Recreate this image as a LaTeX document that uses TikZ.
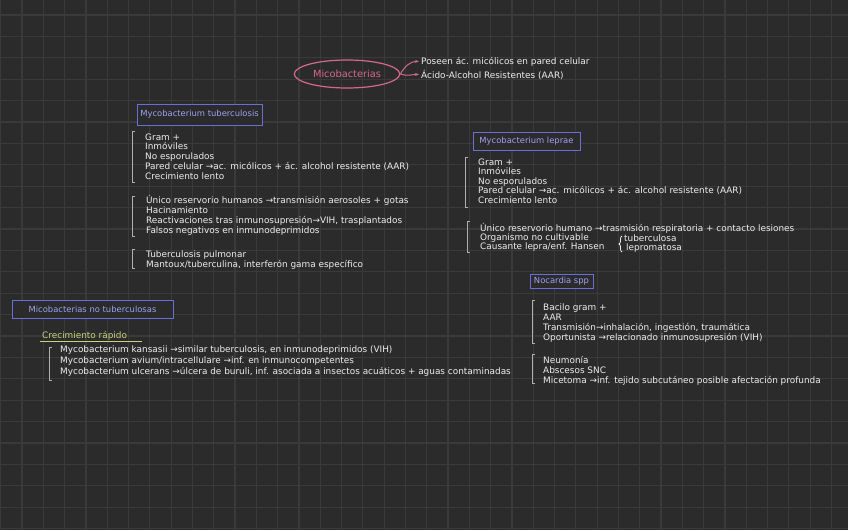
\documentclass[tikz,border=0pt]{standalone}
\usepackage{fontspec}
\setmainfont{DejaVu Sans}
\usetikzlibrary{shapes.geometric,arrows.meta,decorations.pathreplacing}
\definecolor{bg}{HTML}{2B2B2B}
\definecolor{gridc}{HTML}{3A3A3A}
\definecolor{txt}{HTML}{EEEEEE}
\definecolor{brc}{HTML}{B0B0B0}
\definecolor{boxc}{HTML}{6870D8}
\definecolor{boxtxt}{HTML}{9CA2F2}
\definecolor{pinkc}{HTML}{D4698C}
\definecolor{yel}{HTML}{C8D27A}

\begin{document}
\begin{tikzpicture}[x=1pt,y=-1pt,
    gridline/.style={draw=gridc,line width=1.2pt},
    itemtext/.style={anchor=base west,inner sep=0pt,text=txt,font=\fontsize{8.9}{9}\selectfont},
    genusbox/.style={draw=boxc,fill=bg,line width=1pt,text=boxtxt,inner sep=0pt,font=\fontsize{8.4}{9}\selectfont},
    bracketline/.style={draw=brc,line width=0.8pt}]
  \useasboundingbox (0,0) rectangle (848,530);
  \fill[bg] (0,0) rectangle (848,530);
  \foreach \i in {0,...,39} \draw[gridline] (0.7+21.3*\i,0) -- (0.7+21.3*\i,530);
  \foreach \i in {0,...,24} \draw[gridline] (0,15+21.4*\i) -- (848,15+21.4*\i);

  % title
  \node[draw=pinkc,line width=1.2pt,ellipse,minimum width=98pt,minimum height=28pt,
    text=pinkc,font=\fontsize{9.8}{10}\selectfont] (mico) at (347,74) {Micobacterias};
  \node[itemtext] (poseen) at (421,64) {Poseen ác. micólicos en pared celular};
  \node[itemtext] (acido) at (421,78) {Ácido-Alcohol Resistentes (AAR)};
  \draw[pinkc,line width=1pt,-{Stealth[length=4pt]}] (mico.east) to[out=60,in=180] ([xshift=-2pt]poseen.west);
  \draw[pinkc,line width=1pt,-{Stealth[length=4pt]}] (mico.east) to[out=-20,in=180] ([xshift=-2pt]acido.west);

  % boxes
  \node[genusbox,minimum width=125pt,minimum height=21pt] (mtb) at (199.5,114.5) {Mycobacterium tuberculosis};
  \node[genusbox,minimum width=107pt,minimum height=18pt] (mlep) at (526.5,141) {Mycobacterium leprae};
  \node[genusbox,minimum width=63pt,minimum height=14pt] (noc) at (561.5,281) {Nocardia spp};
  \node[genusbox,minimum width=161pt,minimum height=18pt] (ntm) at (92.5,309) {Micobacterias no tuberculosas};

  % brackets
  \foreach \x/\ya/\yb in {132/131/182, 132/196/236, 132/249/268, 465/157/207, 467/221/252,
      532/300/343, 532/354/383, 49/347/380}
    \draw[bracketline] (\x+3,\ya) -- (\x,\ya) -- (\x,\yb) -- (\x+3,\yb);

  % tuberculosis
  \foreach \txt [count=\i] in {Gram +, Inmóviles, No esporulados,
      {Pared celular →ac. micólicos + ác. alcohol resistente (AAR)}, Crecimiento lento}
    \node[itemtext] (tba\i) at (145,130.25+9.75*\i) {\txt};
  \foreach \txt [count=\i] in {{Único reservorio humanos →transmisión aerosoles + gotas}, Hacinamiento,
      {Reactivaciones tras inmunosupresión→VIH, trasplantados}, Falsos negativos en inmunodeprimidos}
    \node[itemtext] (tbb\i) at (146,193+10*\i) {\txt};
  \foreach \txt [count=\i] in {Tuberculosis pulmonar, {Mantoux/tuberculina, interferón gama específico}}
    \node[itemtext] (tbc\i) at (146,247+10*\i) {\txt};

  % leprae
  \foreach \txt [count=\i] in {Gram +, Inmóviles, No esporulados,
      {Pared celular →ac. micólicos + ác. alcohol resistente (AAR)}, Crecimiento lento}
    \node[itemtext] (lpa\i) at (478,155.5+9.5*\i) {\txt};
  \foreach \txt [count=\i] in {{Único reservorio humano →trasmisión respiratoria + contacto lesiones},
      Organismo no cultivable, Causante lepra/enf. Hansen}
    \node[itemtext] (lpb\i) at (480,222+9*\i) {\txt};
  \node[itemtext] (tubf) at (624,241) {tuberculosa};
  \node[itemtext] (lepf) at (626,250) {lepromatosa};
  \draw[draw=txt,line width=0.8pt,decorate,decoration={brace,amplitude=3pt}] (622,252) -- (622,236);

  % nocardia
  \foreach \txt [count=\i] in {Bacilo gram +, AAR, {Transmisión→inhalación, ingestión, traumática},
      {Oportunista →relacionado inmunosupresión (VIH)}}
    \node[itemtext] (nca\i) at (543,300+10*\i) {\txt};
  \foreach \txt [count=\i] in {Neumonía, Abscesos SNC,
      {Micetoma →inf. tejido subcutáneo posible afectación profunda}}
    \node[itemtext] (ncb\i) at (543,353+10*\i) {\txt};

  % no tuberculosas
  \node[itemtext,text=yel] (crec) at (42,338) {Crecimiento rápido};
  \draw[yel,line width=1pt] (40,341.5) -- (142,341.5);
  \foreach \txt [count=\i] in {{Mycobacterium kansasii →similar tuberculosis, en inmunodeprimidos (VIH)},
      {Mycobacterium avium/intracellulare →inf. en inmunocompetentes},
      {Mycobacterium ulcerans →úlcera de buruli, inf. asociada a insectos acuáticos + aguas contaminadas}}
    \node[itemtext] (ntm\i) at (60,341+11*\i) {\txt};
\end{tikzpicture}
\end{document}
